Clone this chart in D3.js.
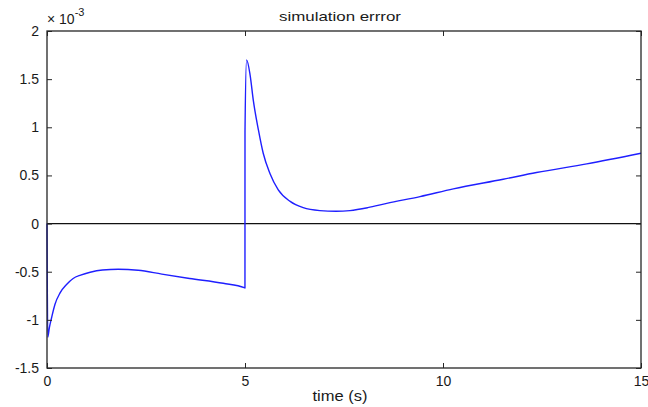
<!DOCTYPE html>
<html><head><meta charset="utf-8">
<script src="https://cdn.jsdelivr.net/npm/d3@7"></script>
<style>body{margin:0;background:#fff}svg{display:block}text{font-family:"Liberation Sans",Arial,sans-serif;fill:#1a1a1a}</style>
</head><body>
<script>
const title = "simulation errror";
const xLabel = "time (s)";
const xTicks = [0, 5, 10, 15];
const yTicks = [-1.5, -1, -0.5, 0, 0.5, 1, 1.5, 2];
const yTickLabels = ["-1.5", "-1", "-0.5", "0", "0.5", "1", "1.5", "2"];
const time = [0, 0.02, 0.06, 0.12, 0.2, 0.33, 0.5, 0.66, 0.85, 1.09, 1.4, 1.8, 2.3, 2.9, 3.6, 4.45, 4.98, 4.999, 5.0, 5.04, 5.13, 5.21, 5.34, 5.46, 5.63, 5.84, 6.14, 6.47, 6.89, 7.3, 7.65, 8.1, 8.58, 9.42, 10.26, 11.52, 12.36, 13.63, 15];
const errorE3 = [0, -1.18, -1.08, -0.97, -0.84, -0.72, -0.63, -0.57, -0.535, -0.505, -0.482, -0.474, -0.485, -0.525, -0.57, -0.62, -0.665, -0.67, 0.95, 1.70, 1.54, 1.28, 0.97, 0.73, 0.52, 0.35, 0.23, 0.165, 0.135, 0.128, 0.135, 0.165, 0.21, 0.28, 0.36, 0.46, 0.53, 0.62, 0.73];

const W = 648, H = 407;
const m = {left: 47, top: 31, right: 641, bottom: 368};
const svg = d3.select("body").append("svg").attr("width", W).attr("height", H);
const x = d3.scaleLinear().domain([0, 15]).range([m.left, m.right]);
const y = d3.scaleLinear().domain([-1.5, 2]).range([m.bottom, m.top]);
const frame = "#262626";

// zero line
svg.append("line").attr("x1", x(0)).attr("x2", x(15)).attr("y1", y(0)).attr("y2", y(0))
  .attr("stroke", "#111").attr("stroke-width", 1.2);

// data line
const data = time.map((t, i) => [t, errorE3[i]]);
svg.append("path").datum(data)
  .attr("d", d3.line().curve(d3.curveMonotoneX).x(d => x(d[0])).y(d => y(d[1])))
  .attr("fill", "none").attr("stroke", "#1f1fff").attr("stroke-width", 1.4).attr("stroke-linejoin", "round");

// axes
const tl = 5;
svg.append("g").attr("transform", `translate(0,${m.bottom})`)
  .call(d3.axisBottom(x).tickValues(xTicks).tickSize(-tl).tickFormat(d3.format("d")))
  .call(g => { g.select(".domain").remove(); g.selectAll("line").attr("stroke", frame);
    g.selectAll("text").attr("font-size", 14).attr("dy", null).attr("y", 18); });
svg.append("g").attr("transform", `translate(0,${m.top})`)
  .call(d3.axisTop(x).tickValues(xTicks).tickSize(-tl).tickFormat(""))
  .call(g => { g.select(".domain").remove(); g.selectAll("line").attr("stroke", frame); });
svg.append("g").attr("transform", `translate(${m.left},0)`)
  .call(d3.axisLeft(y).tickValues(yTicks).tickSize(-tl).tickFormat((d, i) => yTickLabels[i]))
  .call(g => { g.select(".domain").remove(); g.selectAll("line").attr("stroke", frame);
    g.selectAll("text").attr("font-size", 14).attr("x", -8); });
svg.append("g").attr("transform", `translate(${m.right},0)`)
  .call(d3.axisRight(y).tickValues(yTicks).tickSize(-tl).tickFormat(""))
  .call(g => { g.select(".domain").remove(); g.selectAll("line").attr("stroke", frame); });

// frame
svg.append("rect").attr("x", m.left).attr("y", m.top).attr("width", m.right - m.left).attr("height", m.bottom - m.top)
  .attr("fill", "none").attr("stroke", frame).attr("stroke-width", 1.3);

// title
svg.append("text").attr("x", 340).attr("y", 21).attr("text-anchor", "middle").attr("font-size", 13.5)
  .attr("textLength", 122).attr("lengthAdjust", "spacingAndGlyphs").text(title);
// x label
svg.append("text").attr("x", 340).attr("y", 401).attr("text-anchor", "middle").attr("font-size", 14)
  .attr("textLength", 55).attr("lengthAdjust", "spacingAndGlyphs").text(xLabel);
// exponent
const ex = svg.append("text").attr("x", 47).attr("y", 24).attr("font-size", 14);
ex.append("tspan").text("\u00d7 10");
ex.append("tspan").attr("dy", -8).attr("font-size", 11).text("-3");
</script>
</body></html>
